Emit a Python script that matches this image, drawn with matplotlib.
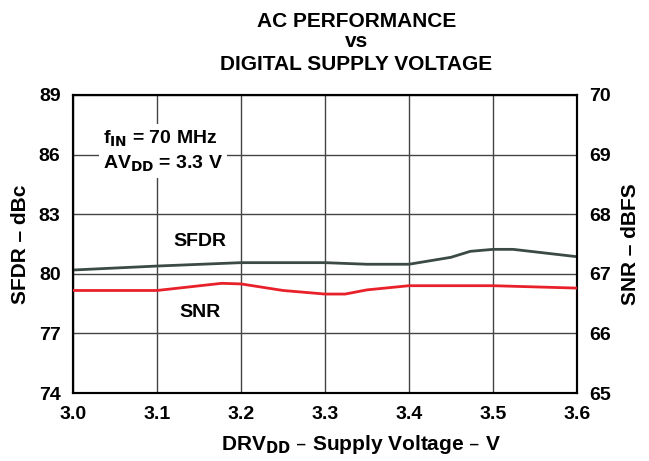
import matplotlib
matplotlib.use("Agg")
from matplotlib import pyplot as plt

plt.rcParams['font.family'] = ['Liberation Sans', 'DejaVu Sans']
plt.rcParams['font.weight'] = 'bold'
plt.rcParams['mathtext.default'] = 'bf'

# SFDR (left axis, dBc)
sfdr_v = [3.0, 3.1, 3.2, 3.3, 3.35, 3.4, 3.45, 3.473, 3.5, 3.524, 3.6]
sfdr = [80.19, 80.39, 80.56, 80.56, 80.48, 80.48, 80.83, 81.13, 81.23, 81.23, 80.86]

# SNR (right axis, dBFS)
snr_v = [3.0, 3.1, 3.177, 3.2, 3.25, 3.3, 3.324, 3.35, 3.4, 3.5, 3.6]
snr = [66.72, 66.72, 66.84, 66.83, 66.72, 66.66, 66.66, 66.73, 66.80, 66.80, 66.76]

x_ticks = [3.0, 3.1, 3.2, 3.3, 3.4, 3.5, 3.6]
left_ticks = [74, 77, 80, 83, 86, 89]
right_ticks = [65, 66, 67, 68, 69, 70]

fig = plt.figure(figsize=(6.49, 4.61), dpi=100)
ax = fig.add_axes([0.1125, 0.1475, 0.7765, 0.6465])
ax2 = ax.twinx()

ax.set_xlim(3.0, 3.6)
ax.set_ylim(74, 89)
ax2.set_ylim(65, 70)
ax.set_xticks(x_ticks)
ax.set_yticks(left_ticks)
ax2.set_yticks(right_ticks)
ax.set_xticklabels(['%.1f' % v for v in x_ticks])

ax.grid(True, color='#444444', linewidth=1.0)
ax.set_axisbelow(True)

ax.plot(sfdr_v, sfdr, color='#3b4a47', linewidth=2.0, zorder=3)
ax2.plot(snr_v, snr, color='#e8202a', linewidth=2.0, zorder=3)

for a in (ax, ax2):
    a.tick_params(length=0, labelsize=14, pad=9)
    for s in a.spines.values():
        s.set_linewidth(1.5)
        s.set_color('black')

ax.set_xlabel('DRV$_{DD}$ \u2013 Supply Voltage \u2013 V', fontsize=15, fontweight='bold')
ax.xaxis.set_label_coords(0.571, -0.135)
ax.set_ylabel('SFDR \u2013 dBc', fontsize=15, fontweight='bold', labelpad=6)
ax2.set_ylabel('SNR \u2013 dBFS', fontsize=15, fontweight='bold', labelpad=7)

ax.text(3.119, 81.6, 'SFDR', fontsize=14, fontweight='bold', ha='left', va='center', zorder=4)
ax.text(3.127, 78.03, 'SNR', fontsize=14, fontweight='bold', ha='left', va='center', zorder=4)

ax.text(3.036, 86.18, 'f$_{IN}$ = 70 MHz\nAV$_{DD}$ = 3.3 V', fontsize=14,
        fontweight='bold', ha='left', va='center', linespacing=1.3, zorder=4,
        bbox=dict(facecolor='white', edgecolor='none', pad=3))

fig.text(0.549, 1 - 27 / 461, 'AC PERFORMANCE', fontsize=15, fontweight='bold',
         ha='center', va='baseline')
fig.text(0.549, 1 - 47 / 461, 'vs', fontsize=15, fontweight='bold',
         ha='center', va='baseline')
fig.text(0.549, 1 - 70 / 461, 'DIGITAL SUPPLY VOLTAGE', fontsize=15, fontweight='bold',
         ha='center', va='baseline')

fig.savefig('out.png', dpi=100)
